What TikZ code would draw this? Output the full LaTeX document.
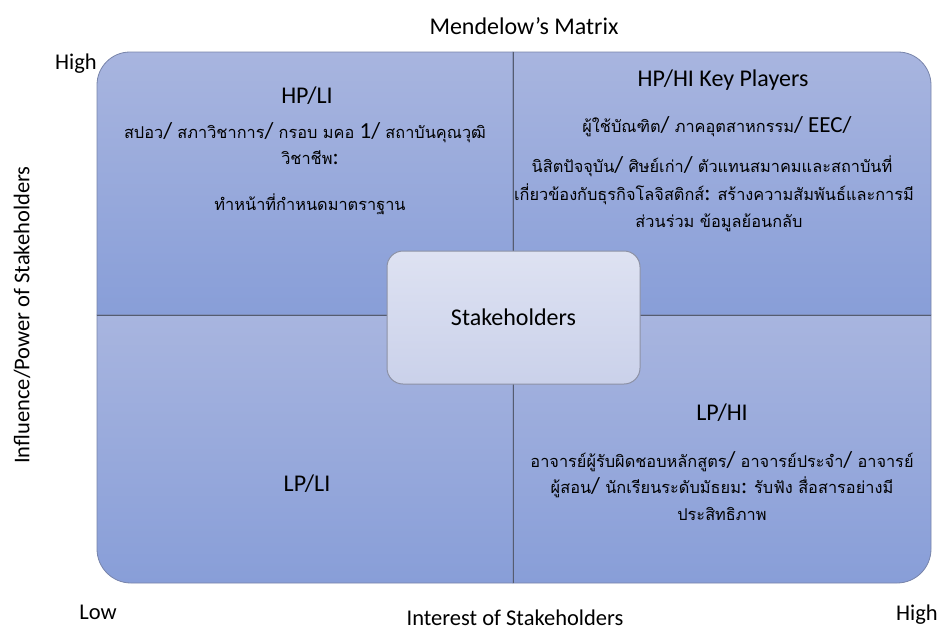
\documentclass[tikz,border=0pt]{standalone}
\usepackage{fontspec}
\setmainfont{Carlito}
\newfontfamily\thaifont[Script=Thai,Scale=0.71]{Loma}

\definecolor{quadtop}{RGB}{168,181,223}
\definecolor{quadbot}{RGB}{136,158,216}
\definecolor{quadline}{RGB}{120,132,170}
\definecolor{divline}{RGB}{85,92,112}
\definecolor{midtop}{RGB}{222,226,242}
\definecolor{midbot}{RGB}{202,209,234}
\definecolor{midline}{RGB}{140,145,165}

\tikzset{
  quad/.style={draw=quadline, line width=0.8pt, top color=quadtop, bottom color=quadbot},
  midbox/.style={draw=midline, line width=1pt, rounded corners=16pt, top color=midtop, bottom color=midbot,
    minimum width=253pt, minimum height=133pt, font=\fontsize{24}{28}\selectfont},
  head/.style={font=\fontsize{24}{28}\selectfont, anchor=base, inner sep=0pt},
  body/.style={font=\fontsize{23}{27}\selectfont, anchor=base, inner sep=0pt},
  axis/.style={font=\fontsize{22.5}{26}\selectfont, anchor=base, inner sep=0pt}
}

\begin{document}
\begin{tikzpicture}[x=1pt,y=-1pt]
\useasboundingbox (0,0) rectangle (942,630);

%draws the four quadrants
\draw[quad] (97,315) -- (97,85) arc[start angle=180,end angle=270,radius=33] -- (513,52) -- (513,315) -- cycle;
\draw[quad] (513,52) -- (898,52) arc[start angle=270,end angle=360,radius=33] -- (931,315) -- (513,315) -- cycle;
\draw[quad] (513,315) -- (931,315) -- (931,549) arc[start angle=0,end angle=90,radius=34] -- (513,583) -- cycle;
\draw[quad] (513,315) -- (513,583) -- (131,583) arc[start angle=90,end angle=180,radius=34] -- (97,315) -- cycle;

%draw dividers
\draw[divline, line width=0.8pt] (513,52) -- (513,583);
\draw[divline, line width=0.8pt] (97,315) -- (931,315);

%centre box
\node[midbox] (stake) at (513.5,317.5) {Stakeholders};

%title and axes
\node[head] (title) at (524,34) {Mendelow’s Matrix};
\node[axis] (yhigh) at (76,69) {High};
\node[axis] (xlow) at (98,619) {Low};
\node[axis] (xhigh) at (917,620) {High};
\node[axis] (xlab) at (515,625) {Interest of Stakeholders};
\node[axis, anchor=center, rotate=90] (ylab) at (22,315) {Influence/Power of Stakeholders};

%top left
\node[head] (tlhead) at (307,103) {HP/LI};
\node[body] (tl1) at (305,138) {{\thaifont สปอว}/ {\thaifont สภาวิชาการ}/ {\thaifont กรอบ มคอ} 1/ {\thaifont สถาบันคุณวุฒิ}};
\node[body] (tl2) at (310,164) {{\thaifont วิชาชีพ}:};
\node[body] (tl3) at (310,210) {{\thaifont ทำหน้าที่กำหนดมาตราฐาน}};

%top right
\node[head] (trhead) at (723,86) {HP/HI Key Players};
\node[body] (tr1) at (717,132) {{\thaifont ผู้ใช้บัณฑิต}/ {\thaifont ภาคอุตสาหกรรม}/ EEC/};
\node[body] (tr2) at (712,172) {{\thaifont นิสิตปัจจุบัน}/ {\thaifont ศิษย์เก่า}/ {\thaifont ตัวแทนสมาคมและสถาบันที่}};
\node[body] (tr3) at (714,200) {{\thaifont เกี่ยวข้องกับธุรกิจโลจิสติกส์}: {\thaifont สร้างความสัมพันธ์และการมี}};
\node[body] (tr4) at (719,227) {{\thaifont ส่วนร่วม ข้อมูลย้อนกลับ}};

%bottom right
\node[head] (brhead) at (722,420) {LP/HI};
\node[body] (br1) at (722,467) {{\thaifont อาจารย์ผู้รับผิดชอบหลักสูตร}/ {\thaifont อาจารย์ประจำ}/ {\thaifont อาจารย์}};
\node[body] (br2) at (722,493) {{\thaifont ผู้สอน}/ {\thaifont นักเรียนระดับมัธยม}: {\thaifont รับฟัง สื่อสารอย่างมี}};
\node[body] (br3) at (722,520) {{\thaifont ประสิทธิภาพ}};

%bottom left
\node[head] (blhead) at (307,491) {LP/LI};
\end{tikzpicture}
\end{document}
